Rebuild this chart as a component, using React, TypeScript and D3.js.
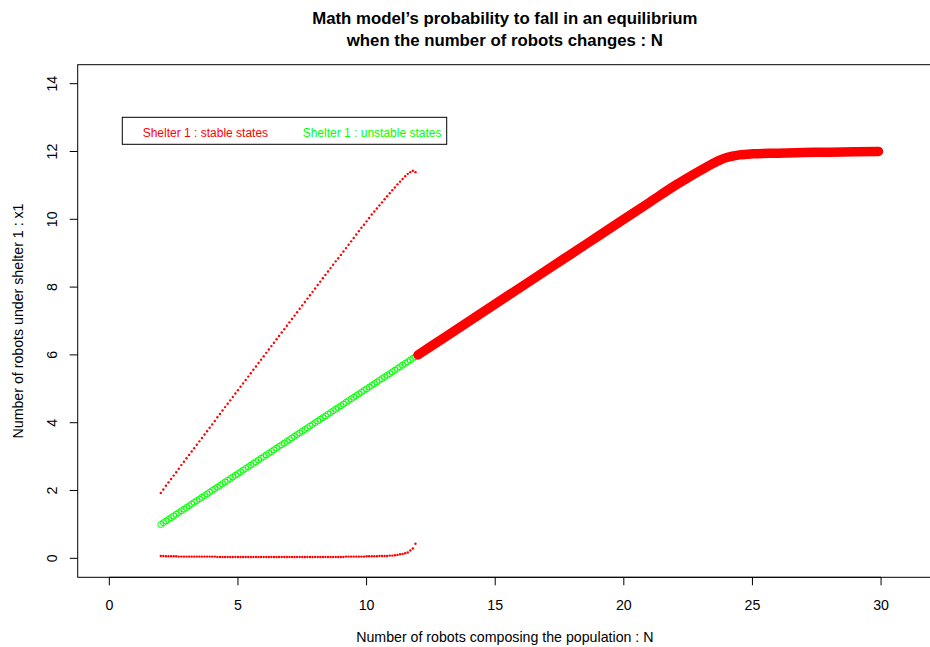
import React from "react";
import * as d3 from "d3";

// ---- data ----
const nSmall = [
  2.0, 2.1, 2.2, 2.3, 2.4, 2.5, 2.6, 2.7, 2.8, 2.9,
  3.0, 3.1, 3.2, 3.3, 3.4, 3.5, 3.6, 3.7, 3.8, 3.9,
  4.0, 4.1, 4.2, 4.3, 4.4, 4.5, 4.6, 4.7, 4.8, 4.9,
  5.0, 5.1, 5.2, 5.3, 5.4, 5.5, 5.6, 5.7, 5.8, 5.9,
  6.0, 6.1, 6.2, 6.3, 6.4, 6.5, 6.6, 6.7, 6.8, 6.9,
  7.0, 7.1, 7.2, 7.3, 7.4, 7.5, 7.6, 7.7, 7.8, 7.9,
  8.0, 8.1, 8.2, 8.3, 8.4, 8.5, 8.6, 8.7, 8.8, 8.9,
  9.0, 9.1, 9.2, 9.3, 9.4, 9.5, 9.6, 9.7, 9.8, 9.9,
  10.0, 10.1, 10.2, 10.3, 10.4, 10.5, 10.6, 10.7, 10.8, 10.9,
  11.0, 11.1, 11.2, 11.3, 11.4, 11.5, 11.6, 11.7, 11.8, 11.9,
];

const stableLow = [
  0.07, 0.07, 0.06, 0.06, 0.06, 0.06, 0.06, 0.05, 0.05, 0.05,
  0.05, 0.05, 0.05, 0.05, 0.05, 0.05, 0.05, 0.05, 0.05, 0.05,
  0.05, 0.05, 0.04, 0.04, 0.04, 0.04, 0.04, 0.04, 0.04, 0.04,
  0.04, 0.04, 0.04, 0.04, 0.04, 0.04, 0.04, 0.04, 0.04, 0.04,
  0.04, 0.04, 0.04, 0.04, 0.04, 0.04, 0.04, 0.04, 0.04, 0.04,
  0.04, 0.04, 0.04, 0.04, 0.04, 0.04, 0.04, 0.04, 0.04, 0.04,
  0.04, 0.04, 0.04, 0.04, 0.04, 0.04, 0.04, 0.04, 0.04, 0.04,
  0.04, 0.04, 0.05, 0.05, 0.05, 0.05, 0.05, 0.05, 0.05, 0.05,
  0.06, 0.06, 0.06, 0.06, 0.06, 0.07, 0.07, 0.07, 0.07, 0.08,
  0.08, 0.09, 0.10, 0.12, 0.13, 0.15, 0.17, 0.23, 0.29, 0.43,
];

const stableHigh = [
  1.93, 2.03, 2.14, 2.24, 2.34, 2.44, 2.54, 2.64, 2.75, 2.85,
  2.95, 3.05, 3.15, 3.25, 3.35, 3.45, 3.55, 3.65, 3.75, 3.85,
  3.95, 4.05, 4.16, 4.26, 4.36, 4.46, 4.56, 4.66, 4.76, 4.86,
  4.96, 5.06, 5.16, 5.26, 5.36, 5.46, 5.56, 5.66, 5.76, 5.86,
  5.96, 6.06, 6.16, 6.26, 6.36, 6.46, 6.56, 6.66, 6.76, 6.86,
  6.96, 7.06, 7.16, 7.26, 7.36, 7.46, 7.56, 7.66, 7.76, 7.86,
  7.96, 8.06, 8.16, 8.26, 8.36, 8.46, 8.56, 8.66, 8.76, 8.85,
  8.95, 9.05, 9.15, 9.25, 9.35, 9.45, 9.55, 9.65, 9.75, 9.84,
  9.94, 10.04, 10.14, 10.23, 10.32, 10.41, 10.5, 10.59, 10.68, 10.77,
  10.86, 10.94, 11.03, 11.11, 11.19, 11.27, 11.34, 11.39, 11.43, 11.39,
];

const unstableMid = [
  1.0, 1.05, 1.1, 1.15, 1.2, 1.25, 1.3, 1.35, 1.4, 1.45,
  1.5, 1.55, 1.6, 1.65, 1.7, 1.75, 1.8, 1.85, 1.9, 1.95,
  2.0, 2.05, 2.1, 2.15, 2.2, 2.25, 2.3, 2.35, 2.4, 2.45,
  2.5, 2.55, 2.6, 2.65, 2.7, 2.75, 2.8, 2.85, 2.9, 2.95,
  3.0, 3.05, 3.1, 3.15, 3.2, 3.25, 3.3, 3.35, 3.4, 3.45,
  3.5, 3.55, 3.6, 3.65, 3.7, 3.75, 3.8, 3.85, 3.9, 3.95,
  4.0, 4.05, 4.1, 4.15, 4.2, 4.25, 4.3, 4.35, 4.4, 4.45,
  4.5, 4.55, 4.6, 4.65, 4.7, 4.75, 4.8, 4.85, 4.9, 4.95,
  5.0, 5.05, 5.1, 5.15, 5.2, 5.25, 5.3, 5.35, 5.4, 5.45,
  5.5, 5.55, 5.6, 5.65, 5.7, 5.75, 5.8, 5.85, 5.9, 5.95,
];

const nLarge = [12, 13, 14, 15, 16, 17, 18, 19, 20, 21, 22, 22.5, 23, 23.5, 24, 24.5, 25, 26, 27, 28, 29, 29.9];
const stableSingle = [6, 6.5, 7, 7.5, 8, 8.5, 9, 9.5, 10, 10.5, 11, 11.23, 11.45, 11.66, 11.82, 11.9, 11.93, 11.95, 11.97, 11.98, 11.99, 12.0];

const xTicks = [0, 5, 10, 15, 20, 25, 30];
const yTicks = [0, 2, 4, 6, 8, 10, 12, 14];

const titleLines = ["Math model\u2019s probability to fall in an equilibrium", "when the number of robots changes : N"];
const xLabel = "Number of robots composing the population : N";
const yLabel = "Number of robots under shelter 1 : x1";
const legendItems = [
  { label: "Shelter 1 : stable states", color: "#FF0000" },
  { label: "Shelter 1 : unstable states", color: "#00FF00" },
];

export default function App() {
  const W = 930, H = 647;
  const left = 77.7, right = 932, top = 64.7, bottom = 577.3;
  const x = d3.scaleLinear().domain([-1.23, 31.98]).range([left, right]);
  const y = d3.scaleLinear().domain([-0.56, 14.56]).range([bottom, top]);
  const font = "'Liberation Sans', Arial, Helvetica, sans-serif";
  const axFs = 14.2;

  const thickLine = d3
    .line<number>()
    .x((_, i) => x(nLarge[i]))
    .y((d) => y(d))
    .curve(d3.curveMonotoneX)(stableSingle) as string;

  const legX = [142.7, 302.7];

  return (
    <svg width={W} height={H} style={{ position: "absolute", left: 0, top: 0, background: "#fff" }} fontFamily={font}>
      <rect x={0} y={0} width={W} height={H} fill="#fff" />
      {/* title */}
      {titleLines.map((t, i) => (
        <text key={i} x={(left + right) / 2} y={24 + i * 22} textAnchor="middle" fontWeight="bold" fontSize={16.8}>
          {t}
        </text>
      ))}
      {/* plot box */}
      <rect x={left} y={top} width={right - left} height={bottom - top} fill="none" stroke="#000" strokeWidth={1} />
      {/* x axis */}
      <line x1={x(xTicks[0])} x2={x(xTicks[xTicks.length - 1])} y1={bottom} y2={bottom} stroke="#000" />
      {xTicks.map((t) => (
        <g key={t}>
          <line x1={x(t)} x2={x(t)} y1={bottom} y2={bottom + 8} stroke="#000" />
          <text x={x(t)} y={609.5} textAnchor="middle" fontSize={axFs}>
            {t}
          </text>
        </g>
      ))}
      {/* y axis */}
      {yTicks.map((t) => (
        <g key={t}>
          <line x1={left} x2={left - 8} y1={y(t)} y2={y(t)} stroke="#000" />
          <text transform={`translate(56.7,${y(t)}) rotate(-90)`} textAnchor="middle" fontSize={axFs}>
            {t}
          </text>
        </g>
      ))}
      <text x={(left + right) / 2} y={642} textAnchor="middle" fontSize={axFs}>
        {xLabel}
      </text>
      <text transform={`translate(23,${(top + bottom) / 2}) rotate(-90)`} textAnchor="middle" fontSize={axFs}>
        {yLabel}
      </text>
      {/* legend */}
      <rect x={122.3} y={117.3} width={324.4} height={27} fill="#fff" stroke="#000" strokeWidth={1} />
      {legendItems.map((it, i) => (
        <text key={i} x={legX[i]} y={137} fontSize={12} fill={it.color}>
          {it.label}
        </text>
      ))}
      {/* data */}
      <g>
        {nSmall.map((n, i) => (
          <circle key={"g" + i} cx={x(n)} cy={y(unstableMid[i])} r={3} fill="none" stroke="#00FF00" strokeWidth={1} />
        ))}
        {nSmall.map((n, i) => (
          <circle key={"h" + i} cx={x(n)} cy={y(stableHigh[i])} r={1.2} fill="#FF0000" />
        ))}
        {nSmall.map((n, i) => (
          <circle key={"l" + i} cx={x(n)} cy={y(stableLow[i])} r={1.2} fill="#FF0000" />
        ))}
        <path d={thickLine} fill="none" stroke="#FF0000" strokeWidth={9.5} strokeLinecap="round" strokeLinejoin="round" />
      </g>
    </svg>
  );
}
